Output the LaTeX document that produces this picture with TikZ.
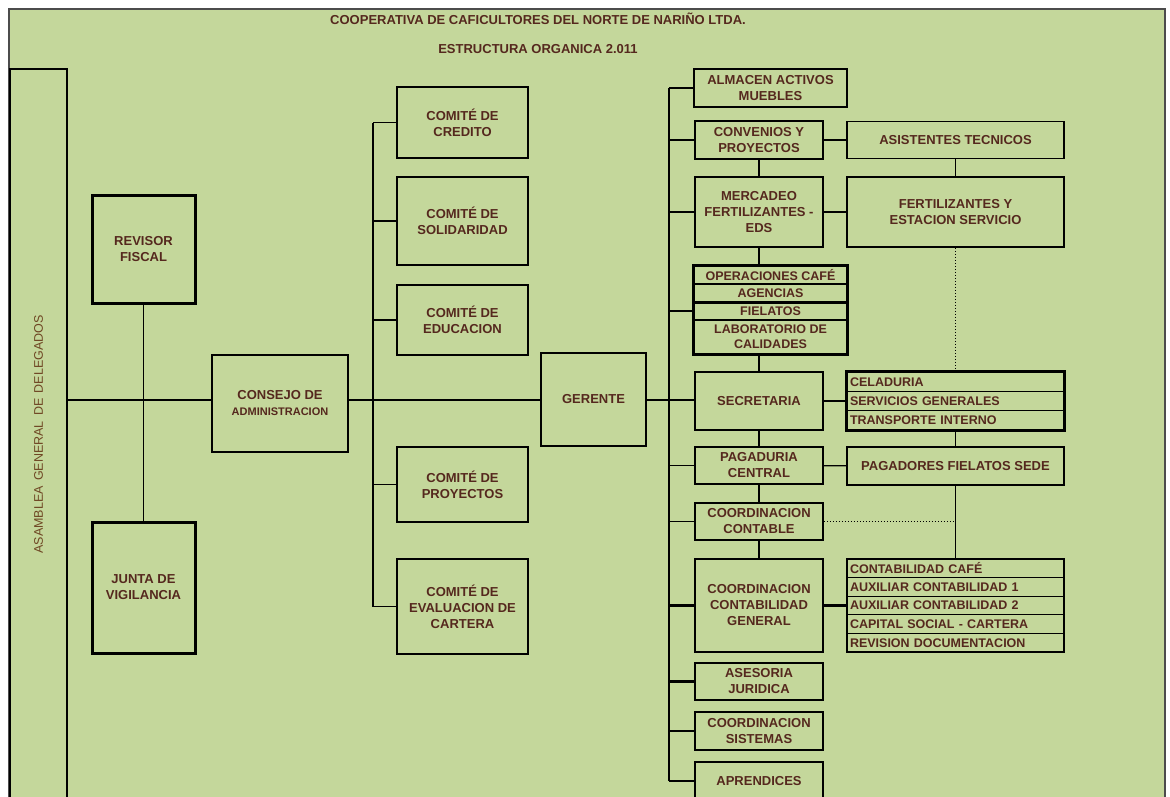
\documentclass[tikz,border=0pt]{standalone}
\usepackage{fontspec}
\usepackage{graphicx}
\setmainfont{Liberation Sans}
\usetikzlibrary{positioning}
\definecolor{verde}{RGB}{196,215,155}
\definecolor{marron}{RGB}{85,40,30}
\definecolor{ocre}{RGB}{110,70,35}
\tikzstyle{caja}=[draw, line width=1.8pt, align=center, inner sep=1pt, text=marron, font=\bfseries\fontsize{13}{16}\selectfont]
\tikzstyle{fina}=[caja, line width=1.3pt]
\tikzstyle{gruesa}=[caja, line width=3pt]
\tikzstyle{fila}=[caja, line width=1.1pt, minimum height=18.6pt, text width=211pt, inner xsep=3pt, inner ysep=0pt, align=left, font=\bfseries\fontsize{12.5}{14}\selectfont]
\tikzstyle{filac}=[caja, line width=1.1pt, minimum width=153pt, inner ysep=0pt, font=\bfseries\fontsize{12.5}{15}\selectfont]
\tikzstyle{titulo}=[text=marron, font=\bfseries\fontsize{13}{15}\selectfont]
\tikzstyle{linea}=[line width=1.2pt]

\begin{document}
\begin{tikzpicture}[x=1pt, y=-1pt]
        \useasboundingbox (0,0) rectangle (1170,796);
        \clip (0,0) rectangle (1170,796);
        \fill[verde] (9,9) rectangle (1165,800);
        \draw[black!70, line width=1.2pt] (9,800) -- (9,9) -- (1165,9) -- (1165,800);
        \node[titulo] (titulo) at (538,19) {COOPERATIVA DE CAFICULTORES DEL NORTE DE NARIÑO LTDA.};
        \node[titulo] (subtitulo) at (538,49) {ESTRUCTURA ORGANICA 2.011};
        % izquierda
        \node[fina, minimum width=57pt, minimum height=731pt] (asamblea) at (38.5,434.5)
            {\rotatebox{90}{\mdseries\fontsize{12.5}{14}\selectfont\color{ocre}\spaceskip=0.42em ASAMBLEA GENERAL DE DELEGADOS}};
        \node[gruesa, minimum width=103pt, minimum height=108pt] (revisor) at (143.5,249) {REVISOR\\FISCAL};
        \node[gruesa, minimum width=103pt, minimum height=131pt] (junta) at (143.5,587.5) {JUNTA DE\\VIGILANCIA};
        \node[fina, minimum width=136pt, minimum height=97pt] (consejo) at (280,403.5)
            {{\fontsize{13}{15}\selectfont CONSEJO DE}\\{\fontsize{11}{13}\selectfont ADMINISTRACION}};
        \node[fina, minimum width=105pt, minimum height=93pt] (gerente) at (593.5,399.5) {GERENTE};
        % comites
        \node[caja, minimum width=131pt, minimum height=71pt] (credito) at (462.5,122.5) {COMITÉ DE\\CREDITO};
        \node[caja, minimum width=131pt, minimum height=88pt] (solidaridad) at (462.5,221) {COMITÉ DE\\SOLIDARIDAD};
        \node[caja, minimum width=131pt, minimum height=70pt] (educacion) at (462.5,320) {COMITÉ DE\\EDUCACION};
        \node[caja, minimum width=131pt, minimum height=75pt] (proyectos) at (462.5,484.5) {COMITÉ DE\\PROYECTOS};
        \node[caja, minimum width=131pt, minimum height=95pt] (cartera) at (462.5,606.5) {COMITÉ DE\\EVALUACION DE\\CARTERA};
        % dependencias del gerente
        \node[caja, minimum width=153pt, minimum height=38pt] (almacen) at (770.5,88) {ALMACEN ACTIVOS\\MUEBLES};
        \node[caja, minimum width=128pt, minimum height=38pt] (convenios) at (759,140) {CONVENIOS Y\\PROYECTOS};
        \node[caja, minimum width=128pt, minimum height=70pt] (mercadeo) at (759,212) {MERCADEO\\FERTILIZANTES -\\EDS};
        \node[filac, minimum height=18pt] (operaciones) at (770.5,275) {OPERACIONES CAFÉ};
        \node[filac, minimum height=18pt] (agencias) at (770.5,293) {AGENCIAS};
        \node[filac, minimum height=18pt] (fielatos) at (770.5,311) {FIELATOS};
        \node[filac, minimum height=34pt] (laboratorio) at (770.5,337) {LABORATORIO DE\\CALIDADES};
        \node[caja, minimum width=128pt, minimum height=58pt] (secretaria) at (759,401) {SECRETARIA};
        \node[caja, minimum width=128pt, minimum height=37pt] (pagaduria) at (759,465.5) {PAGADURIA\\CENTRAL};
        \node[caja, minimum width=128pt, minimum height=37pt] (contable) at (759,521.5) {COORDINACION\\CONTABLE};
        \node[caja, minimum width=128pt, minimum height=93pt] (general) at (759,605.5) {COORDINACION\\CONTABILIDAD\\GENERAL};
        \node[caja, minimum width=128pt, minimum height=37pt] (asesoria) at (759,681.5) {ASESORIA\\JURIDICA};
        \node[caja, minimum width=128pt, minimum height=38pt] (sistemas) at (759,731) {COORDINACION\\SISTEMAS};
        \node[caja, minimum width=128pt, minimum height=38pt] (aprendices) at (759,781) {APRENDICES};
        % tercera columna
        \node[caja, minimum width=217pt, minimum height=37pt] (asistentes) at (955.5,140) {ASISTENTES TECNICOS};
        \node[caja, minimum width=217pt, minimum height=70pt] (fertilizantes) at (955.5,212) {FERTILIZANTES Y\\ESTACION SERVICIO};
        \node[fila, minimum height=19.3pt] (celaduria) at (955.5,381.7) {CELADURIA};
        \node[fila, minimum height=19.3pt] (servicios) at (955.5,401) {SERVICIOS GENERALES};
        \node[fila, minimum height=19.3pt] (transporte) at (955.5,420.3) {TRANSPORTE INTERNO};
        \node[caja, minimum width=217pt, minimum height=38pt] (pagadores) at (955.5,466) {PAGADORES FIELATOS SEDE};
        \node[fila] (contcafe) at (955.5,568.3) {CONTABILIDAD CAFÉ};
        \node[fila] (auxuno) at (955.5,586.9) {AUXILIAR CONTABILIDAD 1};
        \node[fila] (auxdos) at (955.5,605.5) {AUXILIAR CONTABILIDAD 2};
        \node[fila] (capital) at (955.5,624.1) {CAPITAL SOCIAL - CARTERA};
        \node[fila] (revision) at (955.5,642.7) {REVISION DOCUMENTACION};
        \draw[line width=2pt] (operaciones.north west) rectangle (laboratorio.south east);
        \draw[line width=2pt] (agencias.south west) -- (agencias.south east);
        \draw[line width=2.2pt] (celaduria.north west) rectangle (transporte.south east);
        \draw[line width=1.6pt] (contcafe.north west) rectangle (revision.south east);
        % lineas
        \coordinate (eje) at (0,400);
        \coordinate (bc) at (373,0);
        \coordinate (bg) at (669,0);
        \draw[linea] (revisor) -- (junta);
        \draw[linea] (asamblea.east |- eje) -- (consejo.west |- eje);
        \draw[linea] (consejo.east |- eje) -- (gerente.west |- eje);
        \draw[linea] (gerente.east |- eje) -- (secretaria.west |- eje);
        \draw[linea] (bc |- credito.west) -- (bc |- cartera.west);
        \foreach \n in {credito,solidaridad,educacion,proyectos,cartera}
            \draw[linea] (bc |- \n.west) -- (\n.west);
        \draw[linea] (bg |- almacen.west) -- (bg |- aprendices.west);
        \foreach \n in {almacen,convenios,mercadeo,fielatos,pagaduria,contable}
            \draw[linea] (bg |- \n.west) -- (\n.west);
        \foreach \n in {general,asesoria,sistemas,aprendices}
            \draw[line width=2.4pt] (bg |- \n.west) -- (\n.west);
        \draw[linea] (convenios) -- (mercadeo);
        \draw[linea] (mercadeo.south) -- (mercadeo.south |- operaciones.north);
        \draw[linea] (secretaria.north |- laboratorio.south) -- (secretaria.north);
        \draw[linea] (secretaria) -- (pagaduria);
        \draw[linea] (pagaduria) -- (contable);
        \draw[linea] (contable) -- (general);
        \draw[linea] (convenios) -- (asistentes);
        \draw[linea] (mercadeo) -- (fertilizantes);
        \draw[linea] (secretaria) -- (servicios);
        \draw[linea] (pagaduria) -- (pagadores);
        \draw[line width=2.4pt] (general.east) -- (auxdos.west);
        \draw[linea] (asistentes) -- (fertilizantes);
        \draw[line width=1pt, dotted] (fertilizantes.south) -- (celaduria.north);
        \draw[linea] (transporte.south) -- (pagadores.north);
        \draw[linea] (pagadores.south) -- (contcafe.north);
        \draw[line width=1pt, dotted] (contable.east) -- (contable.east -| pagadores.south);
    \end{tikzpicture}
\end{document}
